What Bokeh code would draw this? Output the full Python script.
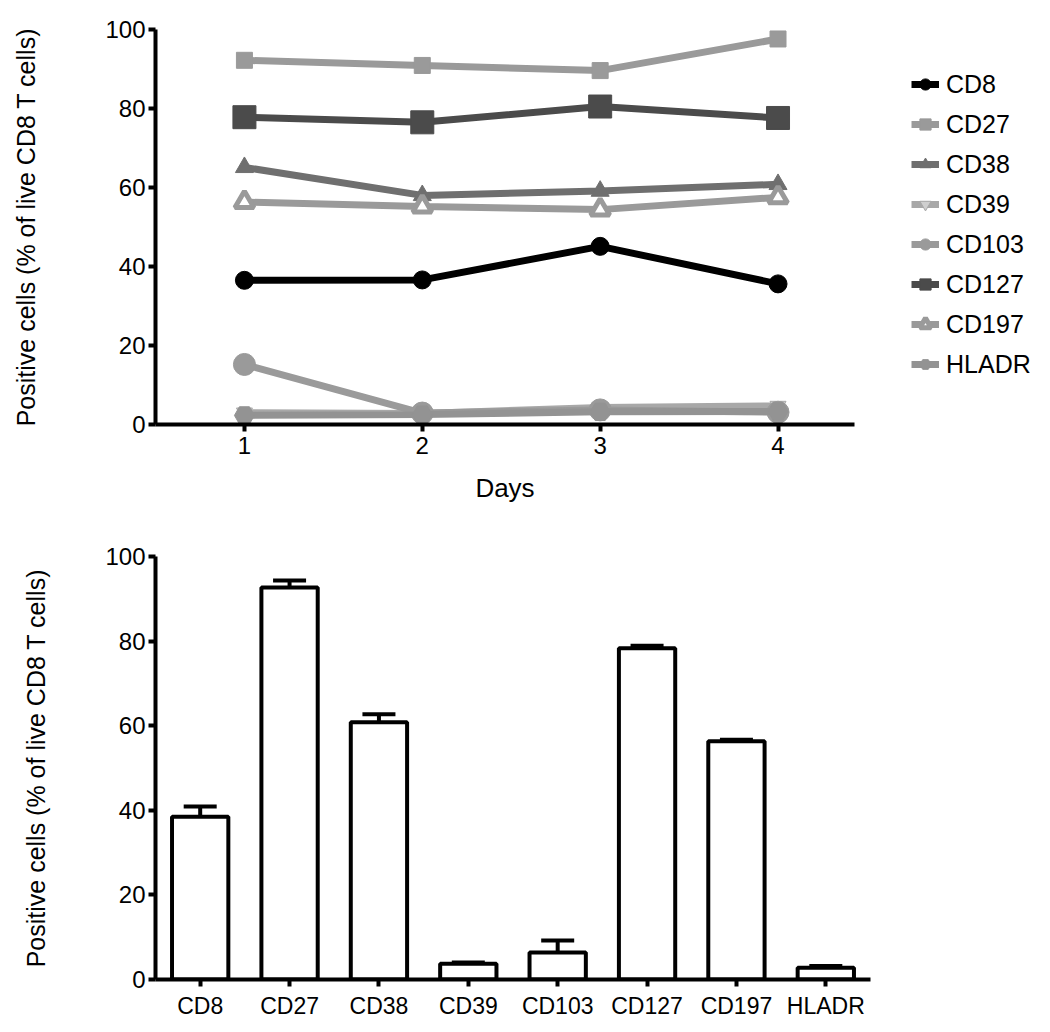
from bokeh.plotting import figure
from bokeh.models import (Range1d, Legend, LegendItem, ColumnDataSource, Whisker,
                          TeeHead, FactorRange, FixedTicker)
from bokeh.layouts import column
from bokeh.embed import file_html
from bokeh.resources import INLINE

# ---------------- data ----------------
days = [1, 2, 3, 4]
cd8 = [36.5, 36.6, 45.1, 35.6]
cd27 = [92.2, 90.9, 89.6, 97.6]
cd38 = [65.1, 58.0, 59.1, 60.8]
cd39 = [3.0, 2.8, 4.3, 4.7]
cd103 = [15.2, 2.9, 3.7, 3.1]
cd127 = [77.8, 76.5, 80.5, 77.6]
cd197 = [56.3, 55.2, 54.4, 57.5]
hladr = [2.3, 2.5, 3.2, 3.3]

bar_names = ["CD8", "CD27", "CD38", "CD39", "CD103", "CD127", "CD197", "HLADR"]
bar_means = [38.5, 92.7, 60.8, 3.7, 6.4, 78.3, 56.3, 2.8]
bar_errors = [2.4, 1.6, 1.9, 0.3, 2.8, 0.6, 0.4, 0.4]

y_ticks = [0, 20, 40, 60, 80, 100]
day_ticks = [1, 2, 3, 4]

FONT = "Liberation Sans"
YLABEL = "Positive cells (% of live CD8 T cells)"


def style_axes(p):
    for ax in [p.xaxis[0], p.yaxis[0]]:
        ax.axis_line_width = 4
        ax.axis_line_color = "black"
        ax.major_tick_line_width = 4
        ax.major_tick_line_color = "black"
        ax.major_tick_out = 7
        ax.major_tick_in = 0
        ax.minor_tick_line_color = None
        ax.major_label_text_font = FONT
        ax.major_label_text_color = "black"
        ax.axis_label_text_font = FONT
        ax.axis_label_text_font_style = "normal"
        ax.axis_label_text_color = "black"
    p.xgrid.grid_line_color = None
    p.ygrid.grid_line_color = None
    p.outline_line_color = None


# ---------------- top: line chart ----------------
p1 = figure(frame_width=699, frame_height=395,
            x_range=Range1d(0.5, 4.43), y_range=Range1d(0, 100),
            output_backend="svg", toolbar_location=None,
            min_border_left=153, min_border_top=29, min_border_right=190, min_border_bottom=84)
style_axes(p1)
p1.yaxis.ticker = FixedTicker(ticks=y_ticks)
p1.xaxis.ticker = FixedTicker(ticks=day_ticks)
p1.yaxis.major_label_text_font_size = "24px"
p1.xaxis.major_label_text_font_size = "24px"
p1.yaxis.major_label_standoff = 3
p1.xaxis.major_label_standoff = 5
p1.yaxis.axis_label = YLABEL
p1.yaxis.axis_label_text_font_size = "25px"
p1.yaxis.axis_label_standoff = 62
p1.xaxis.axis_label = "Days"
p1.xaxis.axis_label_text_font_size = "26px"
p1.xaxis.axis_label_standoff = 16

series = [
    ("CD8", cd8, "black", "circle", 18, "black", 7),
    ("CD27", cd27, "#9a9a9a", "square", 16, "#9a9a9a", 7),
    ("CD38", cd38, "#6f6f6f", "triangle", 18, "#6f6f6f", 7),
    ("CD39", cd39, "#a8a8a8", "inverted_triangle", 16, "#cfcfcf", 7),
    ("CD103", cd103, "#9a9a9a", "circle", 22, "#9a9a9a", 7),
    ("CD127", cd127, "#4b4b4b", "square", 23, "#4b4b4b", 7),
    ("CD197", cd197, "#9a9a9a", "triangle", 19, "white", 7),
    ("HLADR", hladr, "#939393", "hex", 20, "#939393", 7),
]

items = []
for name, vals, col, mk, sz, fill, lw in series:
    r_line = p1.line(days, vals, line_color=col, line_width=lw)
    r_pt = p1.scatter(days, vals, marker=mk, size=sz, fill_color=fill,
                      line_color=col, line_width=5 if fill == "white" else 1)
    items.append(LegendItem(label=name, renderers=[r_line, r_pt]))

legend = Legend(items=items, location=(57, 40), glyph_width=28, glyph_height=40,
                label_height=40, spacing=0, padding=0, margin=0, label_standoff=7,
                label_text_font=FONT, label_text_font_size="25px", label_text_color="black",
                border_line_alpha=0, background_fill_alpha=0)
p1.add_layout(legend, "right")

# ---------------- bottom: bar chart ----------------
p2 = figure(frame_width=715, frame_height=423,
            x_range=FactorRange(factors=bar_names, range_padding=0),
            y_range=Range1d(0, 100), output_backend="svg", toolbar_location=None,
            min_border_left=155, min_border_top=48, min_border_right=100, min_border_bottom=45)
style_axes(p2)
p2.yaxis.ticker = FixedTicker(ticks=y_ticks)
p2.yaxis.major_label_text_font_size = "24px"
p2.xaxis.major_label_text_font_size = "23px"
p2.yaxis.major_label_standoff = 3
p2.xaxis.major_label_standoff = 6
p2.yaxis.axis_label = YLABEL
p2.yaxis.axis_label_text_font_size = "25px"
p2.yaxis.axis_label_standoff = 52

upper = [m + e for m, e in zip(bar_means, bar_errors)]
src = ColumnDataSource(dict(x=bar_names, top=bar_means, upper=upper))
p2.add_layout(Whisker(base="x", upper="upper", lower="top", source=src,
                      line_width=4, line_color="black",
                      upper_head=TeeHead(size=33, line_width=4, line_color="black"),
                      lower_head=None))
p2.vbar(x="x", top="top", width=0.63, source=src, fill_color="white",
        line_color="black", line_width=4)

layout = column(p1, p2, spacing=0)
open("out.html", "w").write(file_html(layout, INLINE))
